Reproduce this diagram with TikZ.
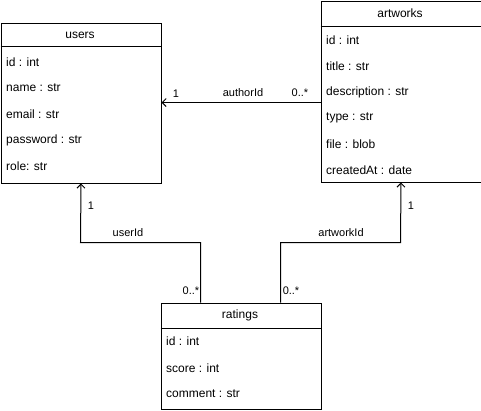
\documentclass[tikz,border=0pt]{standalone}
\usepackage{fontspec}
\setmainfont{Liberation Sans}
\usetikzlibrary{arrows.meta,calc}
\begin{document}
\begin{tikzpicture}[x=1pt,y=-1pt,
  box/.style={draw=black,line width=1pt,rectangle,inner sep=0pt,anchor=north west,minimum width=160pt},
  hdr/.style={font=\fontsize{12}{14}\selectfont,anchor=center},
  item/.style={font=\fontsize{12}{14}\selectfont,anchor=west,inner sep=0pt},
  lbl/.style={font=\fontsize{11}{13}\selectfont,anchor=center,inner sep=0pt},
  arr/.style={draw=black,line width=1pt,-{Straight Barb[length=4pt,width=8pt,line width=1pt]}}]
\useasboundingbox (0,0) rectangle (481,410);
% users
\node[box,minimum height=160pt] (users) at (0.5,22.5) {};
\draw[line width=1pt] (0.5,46.5) -- (160.5,46.5);
\node[hdr] (usersT) at (80,35) {users};
\node[item] (u1) at (6,62) {id : int};
\node[item] (u2) at (6,88) {name : str};
\node[item] (u3) at (6,114) {email : str};
\node[item] (u4) at (6,140) {password : str};
\node[item] (u5) at (6,166) {role: str};
% artworks
\node[box,minimum height=181pt] (art) at (320.5,0.5) {};
\draw[line width=1pt] (320.5,26.5) -- (480.5,26.5);
\node[hdr] (artT) at (400,13) {artworks};
\node[item] (a1) at (326,40) {id : int};
\node[item] (a2) at (326,66) {title : str};
\node[item] (a3) at (326,92) {description : str};
\node[item] (a4) at (326,118) {type : str};
\node[item] (a5) at (326,144) {file : blob};
\node[item] (a6) at (326,170) {createdAt : date};
% ratings
\node[box,minimum height=106pt] (rat) at (160.5,302.5) {};
\draw[line width=1pt] (160.5,328.5) -- (320.5,328.5);
\node[hdr] (ratT) at (240,315) {ratings};
\node[item] (r1) at (166,341) {id : int};
\node[item] (r2) at (166,368) {score : int};
\node[item] (r3) at (166,394) {comment : str};
% connectors
\coordinate (eA) at (320.5,102.5);
\coordinate (jU) at (80.5,242.5);
\coordinate (jR) at (400.5,242.5);
\draw[arr] (eA) -- (users.east |- eA);
\draw[arr] ($(rat.north west)+(40,0)$) |- (jU) -- (users.south);
\draw[arr] ($(rat.north west)+(120,0)$) |- (jR) -- (art.south);
% labels
\node[lbl] (l1) at (243,93) {authorId};
\node[lbl] (l2) at (176,94) {1};
\node[lbl] (l3) at (300,93) {0..*};
\node[lbl] (l4) at (128,233) {userId};
\node[lbl] (l5) at (91,206) {1};
\node[lbl] (l6) at (191,291) {0..*};
\node[lbl] (l7) at (341,233) {artworkId};
\node[lbl] (l8) at (411,206) {1};
\node[lbl] (l9) at (291,291) {0..*};
\end{tikzpicture}
\end{document}
